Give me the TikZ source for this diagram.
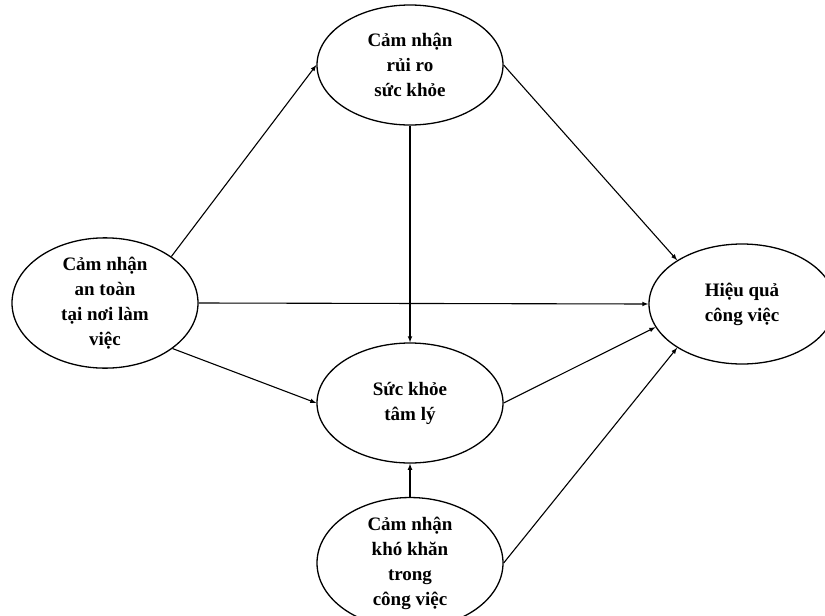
\documentclass[tikz,border=0pt]{standalone}
\usepackage{fontspec}
\setmainfont{Liberation Serif}
\usetikzlibrary{shapes.geometric}

\tikzset{
  factor/.style={draw,line width=1.3pt,ellipse,minimum width=186pt,minimum height=120pt,
    inner sep=0pt,align=center,font=\fontsize{19}{25}\selectfont\bfseries},
  path/.style={line width=1.1pt,-latex}
}

\begin{document}
\begin{tikzpicture}[x=1pt,y=-1pt]
  \useasboundingbox (0,0) rectangle (825,616);

  \node[factor] (ruiro) at (410,65) {Cảm nhận\\rủi ro\\sức khỏe};
  \node[factor] (antoan) at (105,303) {Cảm nhận\\an toàn\\tại nơi làm\\việc};
  \node[factor] (tamly) at (410,403) {Sức khỏe\\tâm lý};
  \node[factor,minimum height=126pt] (khokhan) at (410,563) {Cảm nhận\\khó khăn\\trong\\công việc};
  \node[factor] (hieuqua) at (742,304) {Hiệu quả\\công việc};

  \draw[path] (antoan.35) -- (ruiro.west);
  \draw[path] (antoan.east) -- (hieuqua.west);
  \draw[path] (antoan.-34) -- (tamly.west);
  \draw[path] (ruiro.south) -- (tamly.north);
  \draw[path] (ruiro.east) -- (hieuqua.146);
  \draw[path] (tamly.east) -- (hieuqua.195);
  \draw[path] (khokhan.north) -- (tamly.south);
  \draw[path] (khokhan.east) -- (hieuqua.214);
\end{tikzpicture}
\end{document}
